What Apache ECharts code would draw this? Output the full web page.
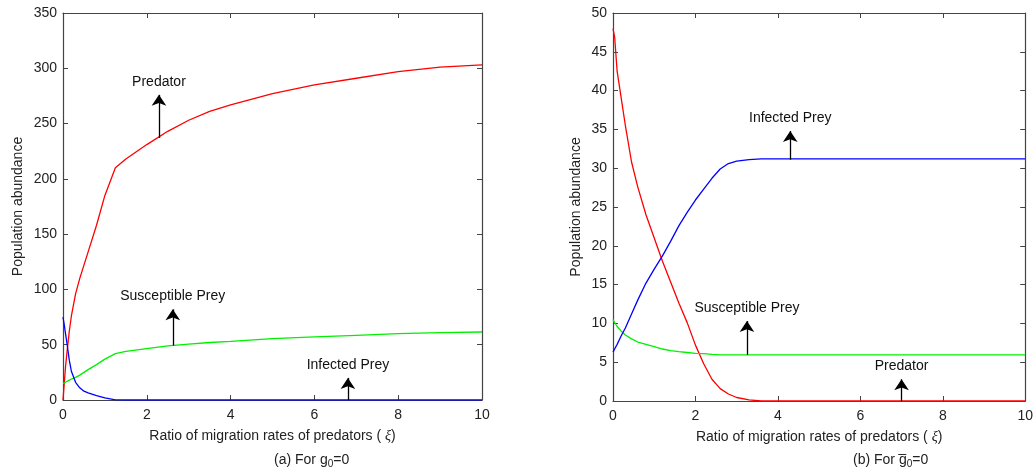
<!DOCTYPE html>
<html>
<head>
<meta charset="utf-8">
<script src="https://cdn.jsdelivr.net/npm/echarts@6/dist/echarts.min.js"></script>
<style>
  html, body { margin: 0; padding: 0; background: #fff; }
  #chart { width: 1036px; height: 474px; }
</style>
</head>
<body>
<div id="chart"></div>
<script>
// (a) g0 = 0
const xiA = [0, 0.03, 0.06, 0.1, 0.15, 0.2, 0.3, 0.4, 0.5, 0.6, 0.8, 1.0, 1.25, 1.5, 2, 2.5, 3, 3.5, 4, 5, 6, 7, 8, 9, 10];
const predatorA = [0, 15, 30, 45, 62, 76, 96, 110, 122, 134, 158, 185, 210, 218, 231, 243, 253, 261, 267, 277, 285, 291, 297, 301, 303];
const susceptibleA = [15, 15.5, 16, 17, 18, 19, 20.5, 22.5, 25, 27.5, 32, 37, 42, 44, 46.5, 49, 50.5, 52, 53, 55.5, 57, 58.5, 60, 61, 61.5];
const infectedA = [75, 68, 60, 50, 36, 26, 16, 11, 8, 6.5, 4, 2, 0.2, 0, 0, 0, 0, 0, 0, 0, 0, 0, 0, 0, 0];

// (b) g0-bar = 0
const xiB = [0, 0.04, 0.1, 0.2, 0.3, 0.45, 0.6, 0.8, 1.0, 1.2, 1.4, 1.6, 1.8, 2.0, 2.2, 2.4, 2.6, 2.8, 3.0, 3.3, 3.6, 4, 5, 6, 7, 8, 9, 10];
const predatorB = [48, 46.9, 42.5, 39, 35.5, 30.8, 27.6, 24, 21, 18, 15.3, 12.6, 10.1, 7.2, 4.8, 2.8, 1.6, 0.9, 0.45, 0.15, 0, 0, 0, 0, 0, 0, 0, 0];
const susceptibleB = [10.5, 10.1, 9.6, 9.0, 8.5, 8.0, 7.6, 7.3, 7.0, 6.7, 6.5, 6.35, 6.25, 6.15, 6.1, 6.0, 5.95, 5.95, 5.95, 5.95, 5.95, 5.95, 5.95, 5.95, 5.95, 5.95, 5.95, 5.95];
const infectedB = [6.3, 6.7, 7.3, 8.4, 9.4, 11.2, 13, 15.2, 17, 18.7, 20.6, 22.6, 24.3, 25.9, 27.3, 28.7, 29.9, 30.6, 30.9, 31.1, 31.2, 31.2, 31.2, 31.2, 31.2, 31.2, 31.2, 31.2];

// arrow notes: [text, xi, from, to]
const notesA = [['Predator', 2.29, 237, 276], ['Susceptible Prey', 2.62, 49.3, 82], ['Infected Prey', 6.8, 0, 20]];
const notesB = [['Infected Prey', 4.3, 31.1, 34.8], ['Susceptible Prey', 3.25, 5.95, 10.3], ['Predator', 7.0, 0, 2.8]];

const FONT = 'Liberation Sans, Arial, sans-serif';
const AXIS = '#444';

function pairs(xs, ys) {
  return xs.map((x, i) => [x, ys[i]]);
}

function notes(list) {
  return {
    silent: true,
    symbol: ['none', 'arrow'],
    symbolSize: 11,
    lineStyle: { color: '#000', width: 1.3, type: 'solid' },
    label: { show: true, position: 'end', distance: 6, color: '#111', fontSize: 14, fontFamily: FONT },
    data: list.map(n => [
      { coord: [n[1], n[2]] },
      { coord: [n[1], n[3]], label: { formatter: n[0] } }
    ])
  };
}

function axesFor(g, max, interval, nameGap) {
  const common = {
    gridIndex: g,
    type: 'value',
    axisLine: { show: true, onZero: false, lineStyle: { color: AXIS, width: 1.2 } },
    axisTick: { show: true, inside: true, length: 5, lineStyle: { color: AXIS } },
    splitLine: { show: false }
  };
  const label = { color: '#222', fontSize: 14, fontFamily: FONT };
  return {
    x: [
      Object.assign({}, common, {
        min: 0, max: 10, interval: 2, position: 'bottom',
        axisLabel: Object.assign({ margin: 8 }, label),
        name: 'Ratio of migration rates of predators ( {i|ξ})',
        nameLocation: 'middle', nameGap: 29,
        nameTextStyle: { color: '#222', fontSize: 14, fontFamily: FONT,
          rich: { i: { fontStyle: 'italic', fontSize: 14, fontFamily: 'Liberation Serif, serif', color: '#222' } } }
      }),
      Object.assign({}, common, { min: 0, max: 10, interval: 2, position: 'top', axisLabel: { show: false } })
    ],
    y: [
      Object.assign({}, common, {
        min: 0, max: max, interval: interval, position: 'left',
        axisLabel: Object.assign({ margin: 6 }, label),
        name: 'Population abundance', nameLocation: 'middle', nameGap: nameGap,
        nameTextStyle: { color: '#222', fontSize: 14, fontFamily: FONT }
      }),
      Object.assign({}, common, { min: 0, max: max, interval: interval, position: 'right', axisLabel: { show: false } })
    ]
  };
}

const a = axesFor(0, 350, 50, 38);
const b = axesFor(1, 50, 5, 30);

function line(name, data, color, xi, yi, extra) {
  return Object.assign({
    name: name, type: 'line', xAxisIndex: xi, yAxisIndex: yi,
    data: data, showSymbol: false, smooth: false, animation: false,
    lineStyle: { color: color, width: 1.3 }, itemStyle: { color: color }
  }, extra || {});
}

const option = {
  animation: false,
  backgroundColor: '#fff',
  textStyle: { fontFamily: FONT },
  grid: [
    { left: 63, top: 13, width: 419, height: 387 },
    { left: 613, top: 13, width: 418, height: 388 }
  ],
  xAxis: [a.x[0], a.x[1], b.x[0], b.x[1]],
  yAxis: [a.y[0], a.y[1], b.y[0], b.y[1]],
  series: [
    line('Predator', pairs(xiA, predatorA), '#ff0000', 0, 0, { markLine: notes(notesA) }),
    line('Susceptible Prey', pairs(xiA, susceptibleA), '#00f000', 0, 0),
    line('Infected Prey', pairs(xiA, infectedA), '#0000ff', 0, 0),
    line('Predator', pairs(xiB, predatorB), '#ff0000', 2, 2, { markLine: notes(notesB) }),
    line('Susceptible Prey', pairs(xiB, susceptibleB), '#00f000', 2, 2),
    line('Infected Prey', pairs(xiB, infectedB), '#0000ff', 2, 2)
  ],
  graphic: [
    {
      type: 'text', left: 274, top: 453,
      style: {
        text: '(a) For g{s|0}=0', fill: '#222', fontSize: 14, fontFamily: FONT,
        align: 'center',
        rich: { s: { fontSize: 10, padding: [9, 0, 0, 0], fontFamily: FONT, fill: '#222' } }
      }
    },
    {
      type: 'text', left: 853, top: 453,
      style: {
        text: '(b) For g\u0305{s|0}=0', fill: '#222', fontSize: 14, fontFamily: FONT,
        align: 'center',
        rich: { s: { fontSize: 10, padding: [9, 0, 0, 0], fontFamily: FONT, fill: '#222' } }
      }
    }
  ]
};

const chart = echarts.init(document.getElementById('chart'));
chart.setOption(option);
</script>
</body>
</html>
